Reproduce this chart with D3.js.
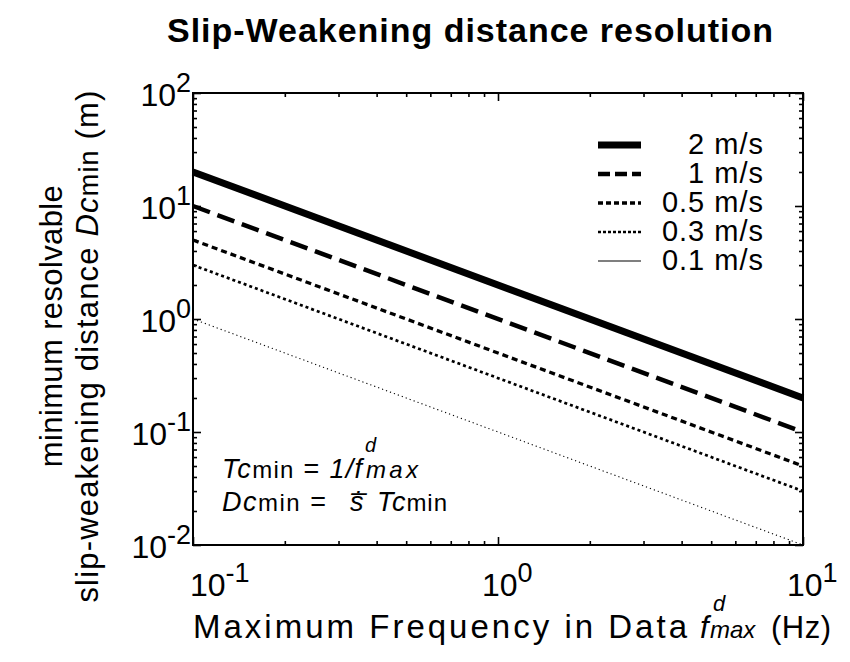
<!DOCTYPE html>
<html><head><meta charset="utf-8">
<script src="https://cdn.jsdelivr.net/npm/d3@7"></script>
<style>
body{margin:0;background:#fff;}
text{font-family:"Liberation Sans",Arial,Helvetica,sans-serif;fill:#000;}
</style></head>
<body><svg id="c" width="850" height="662"></svg>
<script>
const frequencies = [0.1, 10];
const seriesLabels = ["2 m/s", "1 m/s", "0.5 m/s", "0.3 m/s", "0.1 m/s"];
const d2 = [20, 0.2];
const d1 = [10, 0.1];
const d05 = [5, 0.05];
const d03 = [3, 0.03];
const d01 = [1, 0.01];
const seriesValues = [d2, d1, d05, d03, d01];
const xTickExps = [-1, 0, 1];
const yTickExps = [-2, -1, 0, 1, 2];

const styles = [
  {w:7, dash:null, leg:null},
  {w:4.5, dash:"18,8", leg:"12,5"},
  {w:3.3, dash:"6,4", leg:"5,3"},
  {w:2.7, dash:"3,3", leg:"3,2"},
  {w:1.1, dash:"1.2,3", leg:null}
];

const svg = d3.select("#c");
const L=193, R=803, T=93, B=545;
const x = d3.scaleLog().domain([0.1,10]).range([L,R]);
const y = d3.scaleLog().domain([0.01,100]).range([B,T]);

function fit(sel, target){
  const n = sel.node();
  const len = n.getComputedTextLength();
  const cnt = n.textContent.length;
  if (cnt>1) sel.attr("letter-spacing", (target-len)/(cnt-1));
  return sel;
}

const minorX=[], minorY=[];
for (let e=-1;e<1;e++) for (let m=2;m<=9;m++) minorX.push(m*Math.pow(10,e));
for (let e=-2;e<2;e++) for (let m=2;m<=9;m++) minorY.push(m*Math.pow(10,e));
const majX = xTickExps.map(e=>Math.pow(10,e));
const majY = yTickExps.map(e=>Math.pow(10,e));

function axis(gen, vals, size, tr){
  const g = svg.append("g").attr("transform",tr)
    .call(gen.tickValues(vals).tickSize(size).tickFormat(""));
  g.selectAll("path").remove();
  g.selectAll("line").attr("stroke","#000").attr("stroke-width",1.6);
}
axis(d3.axisBottom(x), minorX, -4, `translate(0,${B})`);
axis(d3.axisBottom(x), majX, -8, `translate(0,${B})`);
axis(d3.axisTop(x), minorX, -4, `translate(0,${T})`);
axis(d3.axisTop(x), majX, -8, `translate(0,${T})`);
axis(d3.axisLeft(y), minorY, -4, `translate(${L},0)`);
axis(d3.axisLeft(y), majY, -8, `translate(${L},0)`);
axis(d3.axisRight(y), minorY, -4, `translate(${R},0)`);
axis(d3.axisRight(y), majY, -8, `translate(${R},0)`);

svg.append("rect").attr("x",L).attr("y",T).attr("width",R-L).attr("height",B-T)
  .attr("fill","none").attr("stroke","#000").attr("stroke-width",2);

const line = d3.line().x(d=>x(d[0])).y(d=>y(d[1]));
seriesValues.forEach((vals,i)=>{
  svg.append("path").datum(frequencies.map((f,j)=>[f,vals[j]]))
    .attr("d",line).attr("fill","none").attr("stroke","#000")
    .attr("stroke-width",styles[i].w)
    .attr("stroke-dasharray",styles[i].dash);
});

function powLabel(xp, yp, exp, anchor){
  const t = svg.append("text").attr("x",xp).attr("y",yp).attr("font-size",32)
    .attr("text-anchor",anchor);
  t.append("tspan").text("10");
  t.append("tspan").attr("dy",-14).attr("font-size",27).text(exp);
  return t;
}
yTickExps.forEach(e=>{
  const yy = y(Math.pow(10,e));
  powLabel(L-2, yy+13, String(e), "end");
});
xTickExps.forEach(e=>{
  const xx = x(Math.pow(10,e));
  powLabel(e<0 ? xx-3 : xx-16, 596, String(e), "start");
});

const legY = [154, 183, 212, 241, 270];
seriesLabels.forEach((lab,i)=>{
  svg.append("line").attr("x1",598).attr("x2",641).attr("y1",legY[i]-9).attr("y2",legY[i]-9)
    .attr("stroke","#000").attr("stroke-width",styles[i].w)
    .attr("stroke-dasharray", styles[i].leg);
  svg.append("text").attr("x",764).attr("y",legY[i]).attr("text-anchor","end")
    .attr("font-size",29).attr("letter-spacing",1).text(lab);
});

// title
fit(svg.append("text").attr("x",167).attr("y",42)
  .attr("font-size",34).attr("font-weight","bold").text("Slip-Weakening distance resolution"), 606);

// x label
fit(svg.append("text").attr("x",193).attr("y",638).attr("font-size",33)
  .text("Maximum Frequency in Data"), 494);
svg.append("text").attr("x",700).attr("y",638).attr("font-size",31).attr("font-style","italic").text("f");
svg.append("text").attr("x",713).attr("y",611).attr("font-size",22).attr("font-style","italic").text("d");
svg.append("text").attr("x",710).attr("y",638).attr("font-size",24).attr("font-style","italic").text("max");
fit(svg.append("text").attr("x",771).attr("y",638).attr("font-size",31).text("(Hz)"), 60);

// y label
const yl = svg.append("g").attr("transform","rotate(-90)");
fit(yl.append("text").attr("x",-326).attr("y",62).attr("text-anchor","middle").attr("font-size",31)
  .text("minimum resolvable"), 282);
const yl2 = yl.append("text").attr("x",-346).attr("y",98).attr("text-anchor","middle").attr("font-size",31);
yl2.append("tspan").text("slip-weakening distance ");
yl2.append("tspan").attr("font-style","italic").text("Dc");
yl2.append("tspan").attr("font-size",27).text("min");
yl2.append("tspan").text(" (m)");
fit(yl2, 512);

// annotations
const a1 = svg.append("text").attr("x",222).attr("y",478).attr("font-size",27);
a1.append("tspan").attr("font-style","italic").text("Tc");
a1.append("tspan").attr("font-size",24).text("min");
a1.append("tspan").text(" = ");
a1.append("tspan").attr("font-style","italic").text("1/f");
fit(a1, 140);
svg.append("text").attr("x",365).attr("y",452).attr("font-size",20).attr("font-style","italic").text("d");
fit(svg.append("text").attr("x",366).attr("y",478).attr("font-size",24).attr("font-style","italic").text("max"), 52);

const a2 = svg.append("text").attr("x",222).attr("y",511).attr("font-size",27);
a2.append("tspan").attr("font-style","italic").text("Dc");
a2.append("tspan").attr("font-size",24).text("min");
a2.append("tspan").text(" =");
fit(a2, 104);
svg.append("text").attr("x",350).attr("y",511).attr("font-size",27).attr("font-style","italic").text("\u1E61\u0305");
const a3 = svg.append("text").attr("x",377).attr("y",511).attr("font-size",27);
a3.append("tspan").attr("font-style","italic").text("Tc");
a3.append("tspan").attr("font-size",24).text("min");
fit(a3, 70);
</script></body></html>
